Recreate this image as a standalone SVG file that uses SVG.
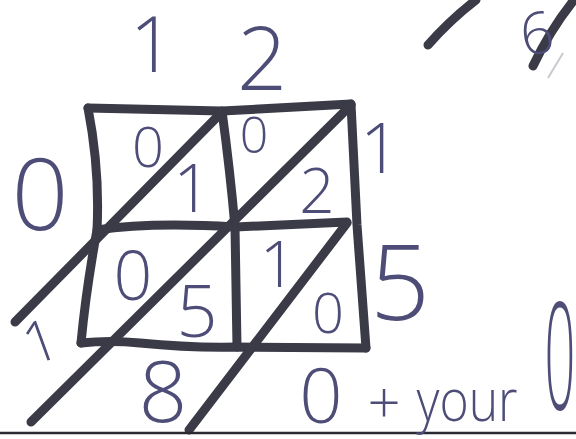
<svg xmlns="http://www.w3.org/2000/svg" width="576" height="439" viewBox="0 0 576 439">
<style>
.ln{fill:none;stroke:#3b3b48;stroke-width:9;stroke-linecap:round;stroke-linejoin:round}
.t{font-family:"Open Sans","Liberation Sans",Arial,sans-serif;font-weight:300;fill:#4d4d78;text-anchor:middle}
</style>
<rect width="576" height="439" fill="#ffffff"/>
<g id="connectors">
<path id="grid-top" class="ln" d="M88,108 L222,111 L351,104"/>
<path id="grid-left" class="ln" d="M88,108 Q100,170 97,230 Q86,290 81,343"/>
<path id="grid-mid-v" class="ln" d="M222,111 Q230,170 235,227 L237,347"/>
<path id="grid-right" class="ln" d="M351,104 L357,225 L366,348"/>
<path id="grid-mid-h" class="ln" d="M97,230 Q150,222 235,227 L347,222"/>
<path id="grid-bottom" class="ln" d="M81,343 Q110,340 140,343 Q190,348 237,347 L366,348"/>
<path id="diag-1" class="ln" d="M222,112 L15,322"/>
<path id="diag-2" class="ln" d="M351,105 L31,422"/>
<path id="diag-3" class="ln" d="M347,223 L189,430"/>
<path id="stroke-tr1" class="ln" d="M428,45 Q450,20 476,0"/>
<path id="stroke-tr2" class="ln" d="M533,66 Q550,30 574,0"/>
<path id="faint" d="M563,53 L548,78" fill="none" stroke="#c8c8d0" stroke-width="2"/>
<path id="rule" d="M0,433 L576,433" fill="none" stroke="#2a2a30" stroke-width="2.5"/>
</g>
<g id="top-labels">
<text class="t" x="152" y="72" font-size="78">1</text>
<text class="t" x="262" y="90" font-size="88">2</text>
<text class="t" x="537" y="54" font-size="58" transform="rotate(-10 537 35)">6</text>
</g>
<g id="side-labels">
<text class="t" x="40" y="230" font-size="100">0</text>
<text class="t" x="380" y="173" font-size="70">1</text>
<text class="t" x="400" y="320" font-size="105">5</text>
<text class="t" x="40" y="362" font-size="58" transform="rotate(-20 40 340)">1</text>
</g>
<g id="cell-tl">
<text class="t" x="148" y="167" font-size="56">0</text>
<text class="t" x="192" y="212" font-size="66">1</text>
</g>
<g id="cell-tr">
<text class="t" x="254" y="153" font-size="50">0</text>
<text class="t" x="317" y="213" font-size="62">2</text>
</g>
<g id="cell-bl">
<text class="t" x="133" y="300" font-size="68">0</text>
<text class="t" x="197" y="337" font-size="72">5</text>
</g>
<g id="cell-br">
<text class="t" x="278" y="287" font-size="64">1</text>
<text class="t" x="328" y="333" font-size="56">0</text>
</g>
<g id="bottom-labels">
<text class="t" x="163" y="422" font-size="85">8</text>
<text class="t" x="321" y="423" font-size="76">0</text>
<text class="t" x="384" y="424" font-size="58">+</text>
<text class="t" x="467" y="421" font-size="58" textLength="101" lengthAdjust="spacingAndGlyphs">your</text>
<text class="t" x="0" y="0" font-size="150" transform="translate(560,410) scale(0.36,1)">0</text>
</g>
</svg>
